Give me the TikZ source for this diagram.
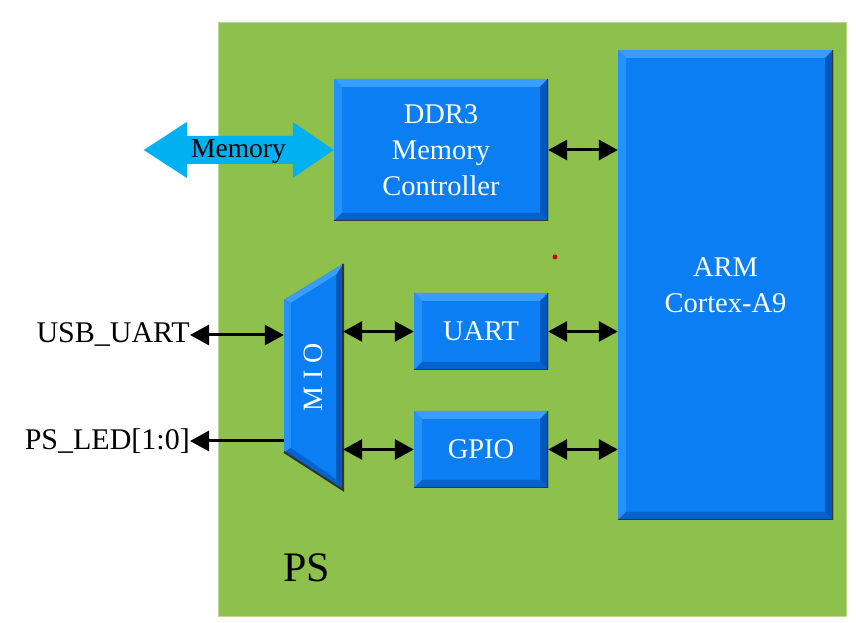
\documentclass[tikz,border=0pt]{standalone}
\usepackage{fontspec}
\setmainfont{Liberation Serif}
\usetikzlibrary{arrows.meta}
\definecolor{psgreen}{RGB}{142,192,76}
\definecolor{blkblue}{RGB}{10,126,242}
\definecolor{blklight}{RGB}{55,158,255}
\definecolor{blkdark}{RGB}{0,88,190}
\definecolor{memblue}{RGB}{0,176,240}

\begin{document}
\begin{tikzpicture}[x=1pt, y=1pt,
    block/.style={fill=blkblue, text=white, inner sep=0, align=center,
      font=\fontsize{28.5}{36}\selectfont,
      path picture={
        \path (path picture bounding box.north west) coordinate (p1)
              (path picture bounding box.north east) coordinate (p2)
              (path picture bounding box.south east) coordinate (p3)
              (path picture bounding box.south west) coordinate (p4);
        \fill[blklight] (p1) -- (p2) -- ++(-8pt,-8pt) -- ([shift={(8pt,-8pt)}]p1) -- cycle;
        \fill[blklight!60!blkblue] (p1) -- (p4) -- ++(8pt,8pt) -- ([shift={(8pt,-8pt)}]p1) -- cycle;
        \fill[blkdark] (p2) -- (p3) -- ++(-8pt,8pt) -- ([shift={(-8pt,-8pt)}]p2) -- cycle;
        \fill[blkdark!70!blkblue] (p4) -- (p3) -- ++(-8pt,8pt) -- ([shift={(8pt,8pt)}]p4) -- cycle;
        \draw[black!80, line width=2pt] (p2) -- (p3) -- (p4);
      }},
    link/.style={{Triangle[length=19pt,width=20pt]}-{Triangle[length=19pt,width=20pt]}, line width=3pt},
    lbl/.style={font=\fontsize{30}{30}\selectfont, inner sep=0}]

    \useasboundingbox[fill=white] (0,0) rectangle (856,623);

    % PS region
    \node[fill=psgreen, draw=psgreen!60!white, line width=0.8pt, minimum width=628pt, minimum height=594pt, inner sep=0] (ps) at (532,304) {};
    \node[font=\fontsize{42}{42}\selectfont, anchor=base west, inner sep=0] (pslbl) at (283,41) {PS};

    % blocks
    \node[block, minimum width=214pt, minimum height=142pt] (ddr) at (441,473) {DDR3\\Memory\\Controller};
    \node[block, minimum width=215pt, minimum height=470pt] (arm) at (725.5,338) {ARM\\Cortex-A9};
    \node[block, minimum width=134pt, minimum height=77pt] (uart) at (481,291.5) {UART};
    \node[block, minimum width=134pt, minimum height=77pt] (gpio) at (481,173.5) {GPIO};

    % MIO
    \node[minimum width=59pt, minimum height=226pt, inner sep=0] (mio) at (313.5,246) {};
    \fill[blkdark] (284,323) -- (343,359) -- (343,133) -- (284,171) -- cycle;
    \fill[blklight] (284,323) -- (343,359) -- (336,348) -- (291,320) -- cycle;
    \fill[blklight!60!blkblue] (284,323) -- (291,320) -- (291,175) -- (284,171) -- cycle;
    \fill[blkdark!70!blkblue] (284,171) -- (343,133) -- (336,144) -- (291,175) -- cycle;
    \fill[blkblue] (291,320) -- (336,348) -- (336,144) -- (291,175) -- cycle;
    \draw[black!80, line width=2pt] (343,359) -- (343,133) -- (284,171);
    \node[text=white, font=\fontsize{28}{28}\selectfont, inner sep=0] (miolbl) at (mio) {\rotatebox{90}{M I O}};

    % external memory
    \fill[memblue] (ddr.west) -- ++(-41,28) -- ++(0,-14) -- ++(-106,0) -- ++(0,14) -- ++(-43,-28)
        -- ++(43,-28) -- ++(0,14) -- ++(106,0) -- ++(0,-14) -- cycle;
    \node[font=\fontsize{27.5}{27.5}\selectfont, inner sep=0] (memlbl) at (238.5,472) {Memory};

    % pins
    \node[lbl, anchor=east] (usb) at (190,288) {USB\_UART};
    \node[lbl, anchor=east] (led) at (190,182) {PS\_LED[1:0]};

    \draw[link] (ddr.east) -- (ddr.east -| arm.west);
    \draw[link] (uart.east) -- (uart.east -| arm.west);
    \draw[link] (gpio.east) -- (gpio.east -| arm.west);
    \draw[link] (uart.west) -- (uart.west -| mio.east);
    \draw[link] (gpio.west) -- (gpio.west -| mio.east);
    \draw[link] (usb.east) -- (usb.east -| mio.west);
    \draw[{Triangle[length=19pt,width=20pt]}-, line width=3pt] (led.east) -- (led.east -| mio.west);

    \fill[red!85!black] (555,366) circle (2.5pt);
\end{tikzpicture}
\end{document}
